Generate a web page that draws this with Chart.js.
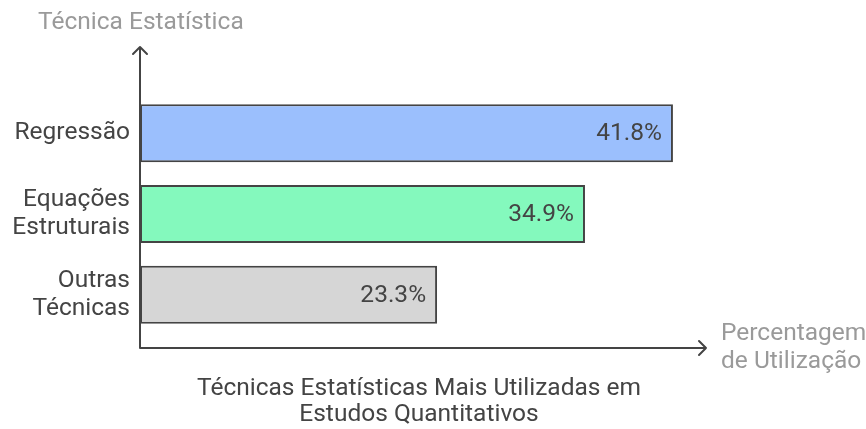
<!DOCTYPE html>
<html>
<head>
<meta charset="utf-8">
<script src="https://cdn.jsdelivr.net/npm/chart.js@4"></script>
<style>
    html, body { margin: 0; padding: 0; background: #ffffff; }
    #wrap { width: 866px; height: 429px; position: relative; }
</style>
</head>
<body>
<div id="wrap"><canvas id="chart"></canvas></div>
<script>
// --- DATA ---
const categories = [['Regressão'], ['Equações', 'Estruturais'], ['Outras', 'Técnicas']];
const usageValues = [41.8, 34.9, 23.3];
const barColors = ['#9bbffd', '#84f9bd', '#d6d6d6'];
const yAxisTitle = 'Técnica Estatística';
const xAxisTitle = ['Percentagem', 'de Utilização'];
const chartTitle = ['Técnicas Estatísticas Mais Utilizadas em', 'Estudos Quantitativos'];

const FONT = 'Roboto, "Open Sans", sans-serif';
const FONT_SIZE = 24.5;

// Axis lines with open arrowheads, value labels and titles
const decorPlugin = {
    id: 'decor',
    afterDatasetsDraw(chart) {
        const { ctx, chartArea } = chart;
        const x0 = chartArea.left;
        const yBase = chartArea.bottom + 13;

        ctx.save();
        ctx.strokeStyle = '#444444';
        ctx.lineWidth = 2;
        ctx.lineCap = 'round';
        ctx.lineJoin = 'round';

        // y axis
        ctx.beginPath();
        ctx.moveTo(x0, yBase);
        ctx.lineTo(x0, 47);
        ctx.moveTo(x0 - 7, 54);
        ctx.lineTo(x0, 47);
        ctx.lineTo(x0 + 7, 54);
        // x axis
        const xEnd = chartArea.right + 5;
        ctx.moveTo(x0, yBase);
        ctx.lineTo(xEnd, yBase);
        ctx.moveTo(xEnd - 7, yBase - 7);
        ctx.lineTo(xEnd, yBase);
        ctx.lineTo(xEnd - 7, yBase + 7);
        ctx.stroke();

        // values inside the bars
        ctx.font = FONT_SIZE + 'px ' + FONT;
        ctx.fillStyle = '#444444';
        ctx.textAlign = 'right';
        ctx.textBaseline = 'middle';
        chart.getDatasetMeta(0).data.forEach((bar, i) => {
            ctx.fillText(usageValues[i].toFixed(1) + '%', bar.x - 11, bar.y + 1);
        });

        // axis titles
        ctx.fillStyle = '#9a9a9a';
        ctx.textAlign = 'left';
        ctx.fillText(yAxisTitle, 38, 23);
        xAxisTitle.forEach((line, i) => ctx.fillText(line, 721, 334 + i * 28));

        // chart title (bottom)
        ctx.fillStyle = '#444444';
        ctx.textAlign = 'center';
        chartTitle.forEach((line, i) => ctx.fillText(line, 419, 389 + i * 26));
        ctx.restore();
    }
};

new Chart(document.getElementById('chart'), {
    type: 'bar',
    data: {
        labels: categories,
        datasets: [{
            data: usageValues,
            backgroundColor: barColors,
            borderColor: '#444444',
            borderWidth: 2,
            borderSkipped: false,
            barPercentage: 0.72,
            categoryPercentage: 1.0
        }]
    },
    options: {
        indexAxis: 'y',
        responsive: true,
        maintainAspectRatio: false,
        animation: false,
        layout: { padding: { top: 93, right: 165, bottom: 94, left: 0 } },
        plugins: {
            legend: { display: false },
            tooltip: { enabled: false },
            title: { display: false }
        },
        scales: {
            x: {
                display: false,
                min: 0,
                max: 44.0
            },
            y: {
                grid: { display: false, drawTicks: false },
                border: { display: false },
                ticks: {
                    color: '#444444',
                    font: { family: FONT, size: FONT_SIZE, lineHeight: 1.15 },
                    padding: 10,
                    crossAlign: 'near'
                },
                afterFit(scale) { scale.width = 140; }
            }
        }
    },
    plugins: [decorPlugin]
});
</script>
</body>
</html>
